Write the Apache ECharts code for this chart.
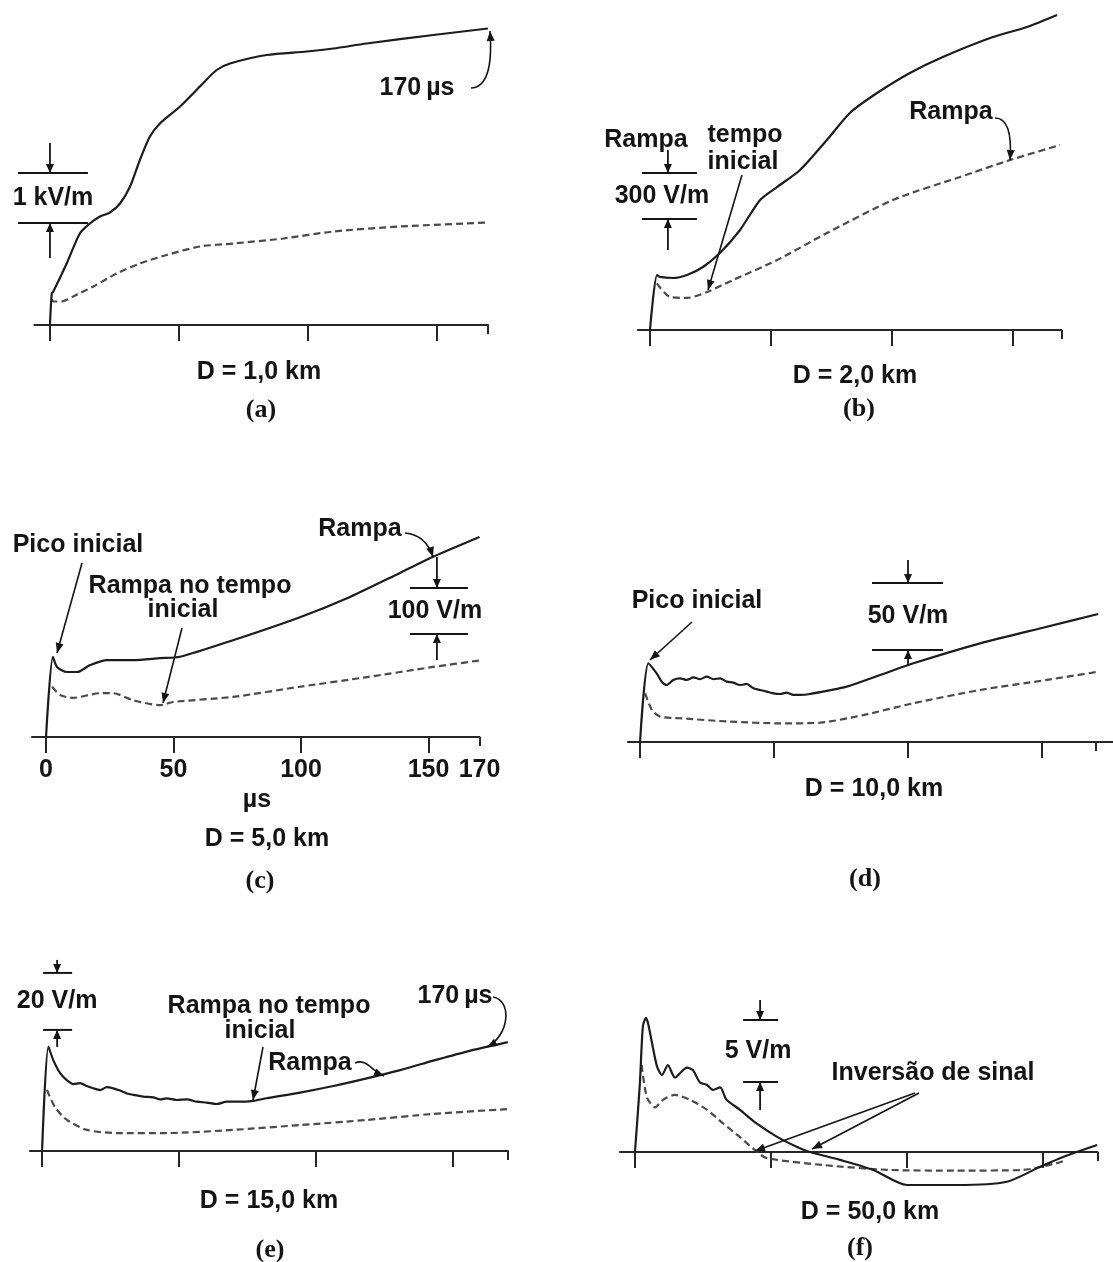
<!DOCTYPE html>
<html><head><meta charset="utf-8">
<script src="https://cdn.jsdelivr.net/npm/echarts@6/dist/echarts.min.js"></script>
<style>html,body{margin:0;padding:0;background:#fff}#c{width:1113px;height:1262px}</style>
</head><body><div id="c"></div>
<script>
// ---------------- data (time in µs, field in panel units) ----------------
const tickValues = [0, 50, 100, 150];
const endTick = [170];
const tickLabelsC = ['0', '50', '100', '150', '170'];

// (a) D = 1,0 km  (kV/m)
const solidA = [[0,0],[0.7,0.63],[1.3,0.67],[6.5,1.23],[11.6,1.83],[15.5,2.03],[19.4,2.17],[23.3,2.25],[27.2,2.43],[31.1,2.77],[34.9,3.3],[38.8,3.77],[42.7,4.03],[50.5,4.37],[58.2,4.77],[64.7,5.1],[69.9,5.23],[84.1,5.4],[99.7,5.47],[110,5.53],[122.9,5.63],[148.8,5.8],[170,5.93]];
const dashedA = [[0.7,0.52],[1.3,0.47],[4.5,0.47],[9,0.57],[16.8,0.77],[25.9,1.03],[34.9,1.23],[45.3,1.4],[58.2,1.57],[71.2,1.63],[90.6,1.73],[110,1.87],[135.9,1.97],[170,2.05]];

// (b) D = 2,0 km  (V/m)
const solidB = [[0,0],[2.9,359],[4.1,346],[9.5,339],[15.3,359],[21.9,411],[28.9,502],[37.2,652],[45.5,848],[52.5,932],[62,1043],[73.1,1239],[82.6,1415],[93.8,1545],[107.4,1676],[121,1780],[141.7,1910],[155.8,1976],[168.2,2054]];
const dashedB = [[2.8,304],[8.3,215],[15.3,209],[23.6,248],[34.3,326],[52.5,456],[73.1,632],[100.4,848],[128.1,998],[148.8,1108],[169.4,1206]];

// (c) D = 5,0 km  (V/m)
const solidC = [[0,0],[2.7,174],[4.3,152],[8.2,141],[12.2,141],[17.3,156],[23.9,167],[34.1,167],[44.7,171],[52.5,174],[73.3,210],[99.6,260],[119.2,304],[138.8,356],[151.8,391],[170,434]];
const dashedC = [[2.4,109],[5.5,91],[10.6,85],[21.2,95],[26.3,95],[34.1,80],[44.7,69],[49.8,76],[73.3,87],[99.6,109],[125.9,130],[151.8,152],[170,166]];

// (d) D = 10,0 km  (V/m)
const solidD = [[0,0],[3.1,58.7],[6.2,51.2],[8.1,45],[9.95,42.5],[12.4,46.3],[14.9,47.5],[17.4,46.3],[19.9,48.2],[22.4,46.8],[24.9,48.8],[27.4,46.8],[29.9,47.5],[32.3,45],[34.8,44.3],[37.3,42.5],[39.8,43.3],[42.3,40],[44.8,38.8],[47.3,37.6],[49.8,36.3],[52.2,35.8],[54.7,36.8],[57.2,35.1],[59.7,35.1],[63.4,35.8],[77.1,41.3],[89.6,50],[102,58.7],[126.9,73.6],[151.8,86],[171,95.5]];
const dashedD = [[1.9,36.3],[4.4,23.9],[7.5,18.9],[14.9,17.7],[33.6,15.2],[52.2,13.9],[67.2,14.4],[83.3,20.1],[102,28.9],[126.9,38.8],[151.8,46.3],[171,52.4]];

// (e) D = 15,0 km  (V/m)
const solidE = [[0,0],[2.3,36.6],[4.1,31.9],[6.6,27.3],[9,24.9],[11.4,23.5],[13.9,23.8],[16.3,22.8],[18.7,22],[21.2,21.4],[23.6,22.4],[26,22],[28.5,21.2],[30.9,20.2],[33.3,19.7],[37,19.1],[40.6,18.8],[43.1,18.1],[45.5,18.5],[49.2,17.9],[52.8,18.1],[56.5,17.3],[60.1,17],[63.8,16.5],[67.4,17.3],[72.3,17.3],[77.1,17.6],[82,18.5],[94.2,20.5],[106.3,22.8],[118.5,25.5],[130.7,28.4],[142.8,31.7],[155,34.9],[170,38.2]];
const dashedE = [[1.8,21.4],[4.7,15.4],[9.1,10.9],[16.4,7.4],[27.4,6.3],[45.6,6.3],[69.7,7.4],[94.2,9.1],[118.6,10.9],[142.7,13],[170,14.7]];

// (f) D = 50,0 km  (V/m)
const solidF = [[0,0],[1.8,5.5],[2.9,10.1],[4,10.8],[4.8,10.4],[6.25,8.8],[8.1,6.9],[9.9,6.2],[12.1,7.0],[14.7,6.0],[19.1,6.8],[21.3,6.6],[23.9,5.6],[26.5,5.4],[28.7,5.0],[31.3,5.2],[33.7,4.2],[38.6,3.4],[44.7,2.3],[52.1,1.24],[59.4,0.43],[64.3,0],[75.4,-0.64],[87.6,-1.45],[100,-2.66],[118.4,-2.66],[136.7,-2.4],[148.9,-1.2],[157.4,-0.4],[169.9,0.56]];
const dashedF = [[2.45,7.0],[4.4,4.4],[7.4,3.6],[10.3,4.2],[14.7,4.6],[20.2,4.2],[26.5,3.4],[32.4,2.3],[38.6,1.2],[44.9,0],[48.5,-0.5],[69.1,-1.05],[93.8,-1.45],[118.4,-1.5],[142.6,-1.45],[155.1,-0.9],[158,-0.7]];

// scale bars: [panel, time, lower value, span, label]
const scaleBarValues = [
  [0, 0, 2.04, 1, '1 kV/m'],
  [1, 7.4, 724, 300, '300 V/m'],
  [2, 153.3, 223.5, 100, '100 V/m'],
  [3, 100, 68.6, 50, '50 V/m'],
  [4, 5.5, 42.5, 20, '20 V/m'],
  [5, 46, 5.64, 5, '5 V/m']
];

// ---------------- layout / style ----------------
const panels = [
  {grid:{left:34.5, top:20, width:453.4, height:305}, x:[-6,170], y:[0,6.1], solid:solidA, dashed:dashedA},
  {grid:{left:637.9, top:7.9, width:423.5, height:322.1}, x:[-5,170], y:[0,2100], solid:solidB, dashed:dashedB},
  {grid:{left:32, top:529.6, width:447.5, height:207.4}, x:[-5.5,170], y:[0,450], solid:solidC, dashed:dashedC, labels:true},
  {grid:{left:628, top:561, width:485, height:181}, x:[-4.5,176.5], y:[0,135], solid:solidD, dashed:dashedD},
  {grid:{left:30, top:960.1, width:477.8, height:190.9}, x:[-4.4,170], y:[0,67], solid:solidE, dashed:dashedE},
  {grid:{left:620, top:1009.3, width:477.4, height:192.3}, x:[-5.5,170], y:[-4,11.5], solid:solidF, dashed:dashedF}
];
const barStyle = [
  {half:[32,38], up:30, down:35, dx:3},
  {half:[26,29], up:23, down:31, dx:-6},
  {half:[27,31], up:31, down:26, dx:-2},
  {half:[36,35], up:23, down:15, dx:0},
  {half:[14,15], up:13, down:17, dx:0},
  {half:[17,18], up:20, down:28, dx:-2}
];

const SANS = '"Liberation Sans", Arial, sans-serif';
const SERIF = '"Liberation Serif", "Times New Roman", serif';
const INK = '#141414';

const texts = [
  ['170\u2009µs', 417, 88], ['D = 1,0 km', 259, 372], ['(a)', 261, 410, 1],
  ['Rampa', 646, 140], ['tempo', 745, 135], ['inicial', 743, 162], ['Rampa', 951, 112],
  ['D = 2,0 km', 855, 376], ['(b)', 859, 409, 1],
  ['Pico inicial', 78, 545], ['Rampa no tempo', 190, 586], ['inicial', 183, 610], ['Rampa', 360, 529],
  ['µs', 257, 800], ['D = 5,0 km', 267, 839], ['(c)', 260, 881, 1],
  ['Pico inicial', 697, 601], ['D = 10,0 km', 874, 789], ['(d)', 865, 879, 1],
  ['Rampa no tempo', 269, 1006], ['inicial', 260, 1031], ['Rampa', 310, 1063], ['170\u2009µs', 455, 996],
  ['D = 15,0 km', 269, 1201], ['(e)', 270, 1250, 1],
  ['Inversão de sinal', 933, 1073], ['D = 50,0 km', 870, 1212], ['(f)', 860, 1248, 1]
];
const arrows = [
  {k:'q', p:[471,88, 494,87, 490,31]},
  {k:'l', p:[742,175, 708,290]},
  {k:'q', p:[995,118, 1013,118, 1010,160]},
  {k:'l', p:[82,563, 57,653]},
  {k:'l', p:[182,628, 163,703]},
  {k:'q', p:[405,533, 426,535, 433,557]},
  {k:'l', p:[692,622, 650,660]},
  {k:'l', p:[263,1047, 253,1100]},
  {k:'c', p:[355,1063, 366,1058, 372,1071, 384,1076]},
  {k:'c', p:[493,997, 512,1000, 510,1035, 487,1047]},
  {k:'l', p:[915,1093, 755,1151]},
  {k:'l', p:[919,1093, 812,1149]}
];

// ---------------- option ----------------
const grid = [], xAxis = [], yAxis = [], series = [];
panels.forEach((p, i) => {
  grid.push(Object.assign({outerBoundsMode:'none', containLabel:false}, p.grid));
  const labelStyle = {show: !!p.labels, color: INK, fontFamily: SANS, fontWeight:'bold', fontSize:25, margin:21, formatter: v => String(v)};
  xAxis.push({
    type:'value', gridIndex:i, min:p.x[0], max:p.x[1], position:'bottom',
    axisLine:{show:true, onZero:true, onZeroAxisIndex:i, lineStyle:{color:'#262626', width:2.2}},
    axisTick:{show:true, inside:false, length:16, customValues:tickValues, lineStyle:{color:'#262626', width:2}},
    axisLabel:Object.assign({}, labelStyle, {customValues:tickValues}),
    splitLine:{show:false}
  });
  xAxis.push({
    type:'value', gridIndex:i, min:p.x[0], max:p.x[1], position:'bottom',
    axisLine:{show:false, onZero:true, onZeroAxisIndex:i},
    axisTick:{show:true, inside:false, length:9, customValues:endTick, lineStyle:{color:'#262626', width:2}},
    axisLabel:Object.assign({}, labelStyle, {customValues:endTick}),
    splitLine:{show:false}
  });
  yAxis.push({type:'value', gridIndex:i, min:p.y[0], max:p.y[1], show:false, splitLine:{show:false}});
  series.push({
    type:'line', xAxisIndex:2*i, yAxisIndex:i, data:p.solid, showSymbol:false, symbol:'none',
    smooth:0.25, lineStyle:{color:'#1c1c1c', width:2.2}, z:3
  });
  series.push({
    type:'line', xAxisIndex:2*i, yAxisIndex:i, data:p.dashed, showSymbol:false, symbol:'none',
    smooth:0.25, lineStyle:{color:'#4a4a4a', width:2.2, type:[7,4]}, z:2
  });
});

const chart = echarts.init(document.getElementById('c'), null, {renderer:'canvas'});
chart.setOption({backgroundColor:'#fff', animation:false, grid, xAxis, yAxis, series});

// ---------------- annotations ----------------
const g = [];
function head(ex, ey, dx, dy, len, w) {
  len = len || 10; w = w || 4;
  const L = Math.hypot(dx, dy), ux = dx / L, uy = dy / L;
  const bx = ex - ux * len, by = ey - uy * len;
  g.push({type:'polygon', silent:true, z:10, shape:{points:[[ex,ey],[bx-uy*w,by+ux*w],[bx+uy*w,by-ux*w]]}, style:{fill:INK}});
}
function seg(x1, y1, x2, y2, w) {
  g.push({type:'line', silent:true, z:10, shape:{x1,y1,x2,y2}, style:{stroke:INK, lineWidth:w || 1.6}});
}
arrows.forEach(a => {
  const p = a.p;
  if (a.k === 'l') { seg(p[0],p[1],p[2],p[3]); head(p[2],p[3],p[2]-p[0],p[3]-p[1]); }
  else if (a.k === 'q') {
    g.push({type:'bezierCurve', silent:true, z:10, shape:{x1:p[0],y1:p[1],cpx1:p[2],cpy1:p[3],x2:p[4],y2:p[5]}, style:{stroke:INK, lineWidth:1.6, fill:null}});
    head(p[4],p[5],p[4]-p[2],p[5]-p[3]);
  } else {
    g.push({type:'bezierCurve', silent:true, z:10, shape:{x1:p[0],y1:p[1],cpx1:p[2],cpy1:p[3],cpx2:p[4],cpy2:p[5],x2:p[6],y2:p[7]}, style:{stroke:INK, lineWidth:1.6, fill:null}});
    head(p[6],p[7],p[6]-p[4],p[7]-p[5]);
  }
});
scaleBarValues.forEach((sb, i) => {
  const st = barStyle[i];
  const top = chart.convertToPixel({gridIndex:sb[0]}, [sb[1], sb[2] + sb[3]]);
  const bot = chart.convertToPixel({gridIndex:sb[0]}, [sb[1], sb[2]]);
  const cx = top[0];
  seg(cx - st.half[0], top[1], cx + st.half[1], top[1], 2);
  seg(cx - st.half[0], bot[1], cx + st.half[1], bot[1], 2);
  seg(cx, top[1] - st.up, cx, top[1], 1.8); head(cx, top[1], 0, 1, 9, 4);
  seg(cx, bot[1] + st.down, cx, bot[1], 1.8); head(cx, bot[1], 0, -1, 9, 4);
  g.push({type:'text', silent:true, z:11, x:cx + st.dx, y:(top[1] + bot[1]) / 2,
    style:{text:sb[4], fill:INK, font:'bold 25px ' + SANS, align:'center', verticalAlign:'middle'}});
});
texts.forEach(t => {
  g.push({type:'text', silent:true, z:11, x:t[1], y:t[2],
    style:{text:t[0], fill:INK, font: t[3] ? 'bold 26px ' + SERIF : 'bold 25px ' + SANS, align:'center', verticalAlign:'middle'}});
});
chart.setOption({graphic:{elements:g}});
</script>
</body></html>
